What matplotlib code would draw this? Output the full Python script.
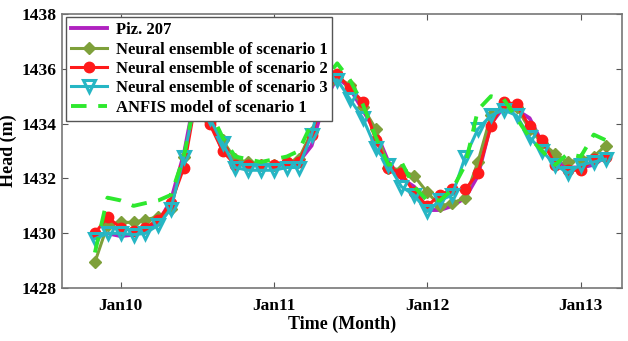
import numpy as np
import pandas as pd
import matplotlib
matplotlib.use('Agg')
import matplotlib.pyplot as plt
import matplotlib.dates as mdates

plt.rcParams['font.family'] = 'Liberation Serif'
plt.rcParams['font.weight'] = 'bold'

months = pd.date_range('2009-11-01', periods=41, freq='MS')

piz = [1429.9, 1430.0, 1429.9, 1429.95, 1430.1, 1430.4, 1431.2, 1432.9, 1435.3, 1434.3,
       1433.0, 1432.6, 1432.5, 1432.5, 1432.5, 1432.5, 1432.6, 1433.2, 1434.8, 1435.7,
       1435.3, 1434.5, 1433.7, 1432.6, 1432.0, 1431.7, 1430.85, 1430.85, 1431.0, 1431.3,
       1432.1, 1434.0, 1434.6, 1434.5, 1434.2, 1433.3, 1432.7, 1432.4, 1432.4, 1432.5, 1432.8]

nn1 = [1428.95, 1430.3, 1430.4, 1430.4, 1430.5, 1430.6, 1430.9, 1432.8, 1435.0, 1434.1,
       1433.4, 1432.7, 1432.6, 1432.5, 1432.5, 1432.6, 1432.7, 1433.7, 1434.9, 1435.7,
       1435.4, 1434.6, 1433.8, 1432.4, 1432.3, 1432.1, 1431.5, 1431.0, 1431.1, 1431.3,
       1432.6, 1434.3, 1434.6, 1434.6, 1433.8, 1433.3, 1432.9, 1432.6, 1432.7, 1432.8, 1433.2]

nn2 = [1430.0, 1430.6, 1430.2, 1430.1, 1430.2, 1430.5, 1431.1, 1432.4, 1435.0, 1434.0,
       1433.0, 1432.5, 1432.5, 1432.5, 1432.5, 1432.6, 1432.6, 1433.6, 1435.0, 1435.8,
       1435.3, 1434.8, 1433.4, 1432.4, 1432.2, 1431.5, 1431.0, 1431.4, 1431.6, 1431.6,
       1432.2, 1433.9, 1434.8, 1434.7, 1433.9, 1433.4, 1432.5, 1432.3, 1432.3, 1432.7, 1432.8]

nn3 = [1429.8, 1430.0, 1430.0, 1429.95, 1430.0, 1430.3, 1430.9, 1432.8, 1435.0, 1434.2,
       1433.3, 1432.4, 1432.3, 1432.3, 1432.3, 1432.4, 1432.4, 1433.6, 1435.5, 1435.6,
       1434.9, 1434.2, 1433.1, 1432.5, 1431.7, 1431.4, 1430.8, 1431.2, 1431.4, 1432.8,
       1433.8, 1434.3, 1434.5, 1434.3, 1433.5, 1433.0, 1432.5, 1432.2, 1432.5, 1432.6, 1432.7]

anfis = [1429.3, 1431.3, 1431.2, 1431.0, 1431.1, 1431.2, 1431.4, 1432.8, 1435.2, 1434.5,
         1433.5, 1432.8, 1432.7, 1432.6, 1432.7, 1432.8, 1433.0, 1434.0, 1435.6, 1436.2,
         1435.6, 1434.7, 1433.5, 1432.5, 1432.6, 1431.7, 1431.2, 1431.2, 1431.6, 1432.5,
         1434.5, 1435.0, 1434.9, 1434.2, 1433.5, 1433.0, 1432.5, 1432.9, 1432.8, 1433.6, 1433.4]

fig = plt.figure(figsize=(6.28, 3.41), dpi=100)
ax = fig.add_axes([0.099, 0.155, 0.892, 0.804])

ax.plot(months, piz, color='#b022c0', linewidth=2.8, label='Piz. 207', zorder=3)
ax.plot(months, nn1, color='#7ea03a', linewidth=2.2, marker='D', markersize=6,
        label='Neural ensemble of scenario 1', zorder=4)
ax.plot(months, nn2, color='#ff1a1a', linewidth=2.2, marker='o', markersize=7.5,
        label='Neural ensemble of scenario 2', zorder=5)
ax.plot(months, nn3, color='#26b6c4', linewidth=2.2, marker='v', markersize=9,
        markerfacecolor='none', markeredgewidth=2.2,
        label='Neural ensemble of scenario 3', zorder=6)
ax.plot(months, anfis, color='#2ee82e', linewidth=2.8, linestyle=(0, (4, 3)),
        label='ANFIS model of scenario 1', zorder=7)

ax.set_xlim(pd.Timestamp('2009-08-15'), pd.Timestamp('2013-04-10'))
ax.set_ylim(1428, 1438)
ax.set_yticks(np.arange(1428, 1439, 2))
ax.xaxis.set_major_locator(mdates.YearLocator(month=1, day=1))
ax.xaxis.set_major_formatter(mdates.DateFormatter('%b%y'))

ax.tick_params(direction='in', top=True, right=True, labelsize=12.5, length=4,
               color='#555555')
ax.tick_params(axis='x', pad=7)
ax.tick_params(axis='y', pad=4)
for lbl in ax.get_xticklabels() + ax.get_yticklabels():
    lbl.set_fontweight('bold')
for sp in ax.spines.values():
    sp.set_color('#777777')
    sp.set_linewidth(1.2)

ax.set_xlabel('Time (Month)', fontsize=13, fontweight='bold', labelpad=1)
ax.set_ylabel('Head (m)', fontsize=13, fontweight='bold', labelpad=3)

leg = ax.legend(loc='upper left', handlelength=2.2, handletextpad=0.5,
                borderpad=0.3, labelspacing=0.2, fancybox=False, framealpha=1,
                edgecolor='#555555', borderaxespad=0.2, prop={'weight': 'bold', 'size': 12})
leg.set_zorder(10)

plt.savefig('out.png', dpi=100)
